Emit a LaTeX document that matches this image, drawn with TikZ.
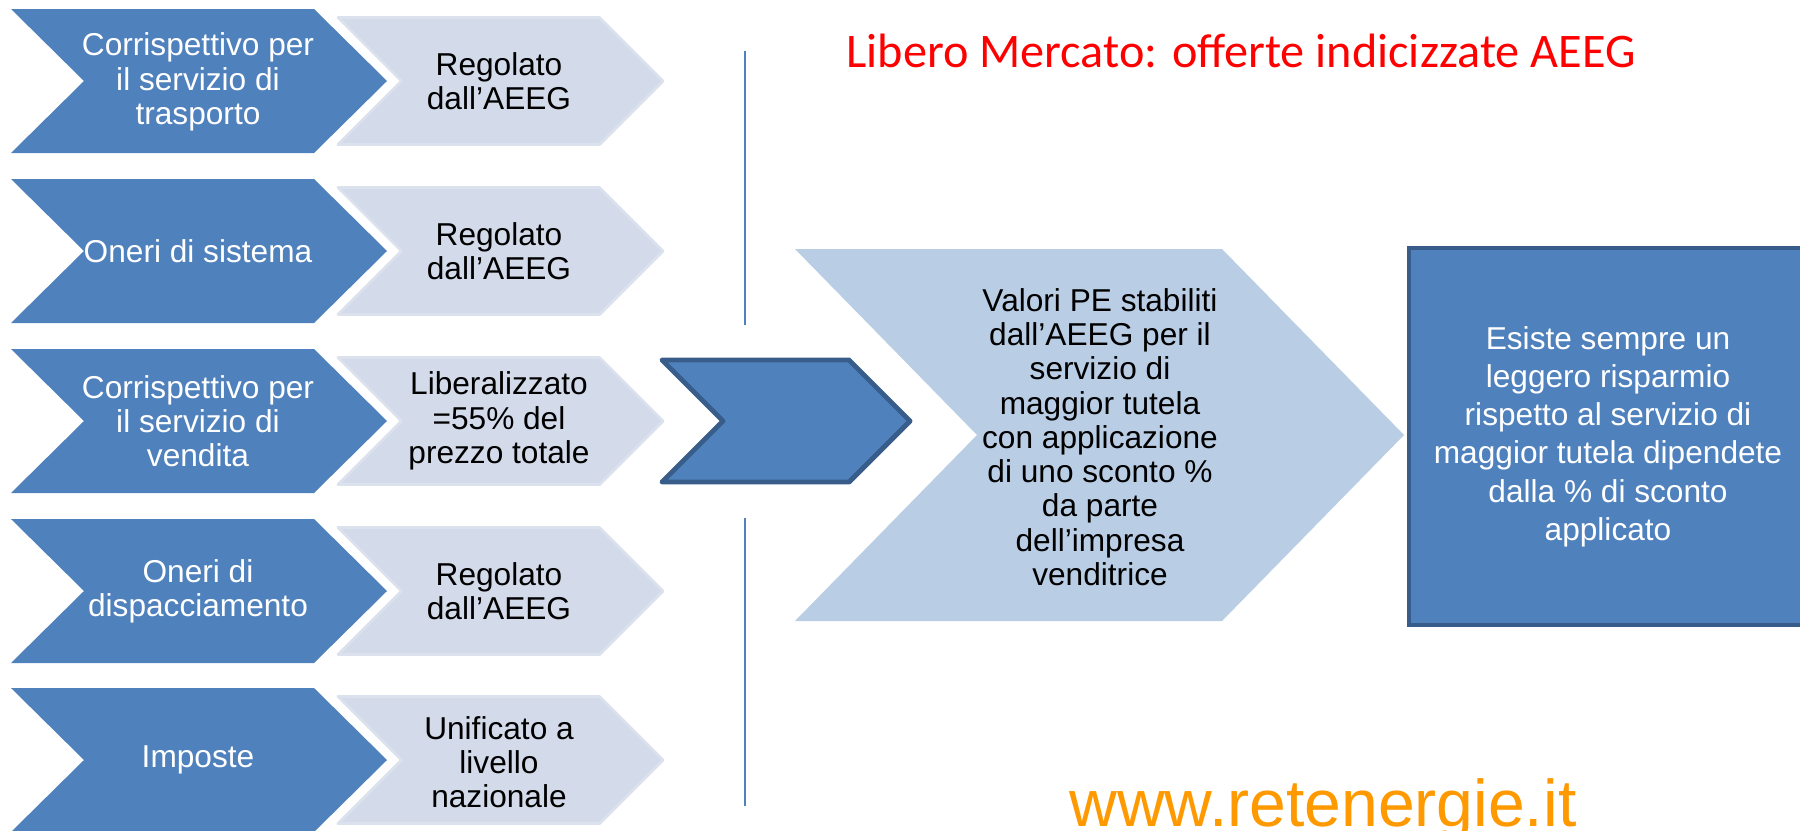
\documentclass[tikz,border=0pt]{standalone}
\usepackage{fontspec}
\setmainfont{Liberation Sans}
\newfontfamily\titlefont{Carlito}
\usetikzlibrary{positioning}

\definecolor{chevblue}{HTML}{4F81BD}
\definecolor{chevborder}{HTML}{385D8A}
\definecolor{chevlight}{HTML}{D3DAEA}
\definecolor{chevlightline}{HTML}{DCE1EE}
\definecolor{pefill}{HTML}{B9CDE5}
\definecolor{urlorange}{HTML}{FF9900}

% chevron: [style]{left}{tip}{centre y}{half height}{depth}
\newcommand{\drawchevron}[6][]{%
	\path[#1] (#2,{#4-#5}) -- ({#2+#6},#4) -- (#2,{#4+#5}) -- ({#3-#6},{#4+#5}) -- (#3,#4) -- ({#3-#6},{#4-#5}) -- cycle;}

\begin{document}
\begin{tikzpicture}[
	x=0.025cm, y=-0.025cm,
	darkchev/.style={fill=chevblue},
	lightchev/.style={fill=chevlight, draw=chevlightline, line width=2pt, line join=round},
	pechev/.style={fill=pefill},
	arrowchev/.style={fill=chevblue, draw=chevborder, line width=3.5pt, line join=round},
	bodytext/.style={inner sep=0pt, align=center, font=\fontsize{22.5}{24.4}\selectfont},
	darktext/.style={bodytext, text=white},
	lighttext/.style={bodytext, text=black},
	resultbox/.style={fill=chevblue, draw=chevborder, line width=2.8pt, minimum width=9.95cm, minimum height=9.425cm, inner sep=0pt, text=white, align=center, font=\fontsize{22.5}{27.2}\selectfont},
	]
	\useasboundingbox (0,0) rectangle (1800,830);
	\fill[white] (0,0) rectangle (1800,830);

	%Shapes
	\drawchevron[darkchev]{11}{387}{81}{72}{73}
	\drawchevron[darkchev]{11}{387}{251}{72}{73}
	\drawchevron[darkchev]{11}{387}{421}{72}{73}
	\drawchevron[darkchev]{11}{387}{591}{72}{73}
	\drawchevron[darkchev]{11}{387}{760}{72}{73}
	\drawchevron[lightchev]{338}{663}{81}{63.5}{63.5}
	\drawchevron[lightchev]{338}{663}{251}{63.5}{63.5}
	\drawchevron[lightchev]{338}{663}{421}{63.5}{63.5}
	\drawchevron[lightchev]{338}{663}{591}{63.5}{63.5}
	\drawchevron[lightchev]{338}{663}{760}{63.5}{63.5}
	\drawchevron[arrowchev]{662}{910}{421}{61}{61}
	\drawchevron[pechev]{795}{1404}{435}{186}{182}
	\draw[chevblue, line width=1.4pt] (745,51) -- (745,325);
	\draw[chevblue, line width=1.4pt] (745,518) -- (745,806);

	%Nodes
	\node[darktext]  (c1) at (198,82)  {Corrispettivo per\\il servizio di\\trasporto};
	\node[darktext]  (c2) at (198,251) {Oneri di sistema};
	\node[darktext]  (c3) at (198,421) {Corrispettivo per\\il servizio di\\vendita};
	\node[darktext]  (c4) at (198,591) {Oneri di\\dispacciamento};
	\node[darktext]  (c5) at (198,760) {Imposte};
	\node[lighttext] (r1) at (499,81)  {Regolato\\dall’AEEG};
	\node[lighttext] (r2) at (499,251) {Regolato\\dall’AEEG};
	\node[lighttext] (r3) at (499,421) {Liberalizzato\\=55\% del\\prezzo totale};
	\node[lighttext] (r4) at (499,591) {Regolato\\dall’AEEG};
	\node[lighttext] (r5) at (499,762) {Unificato a\\livello\\nazionale};
	\node[lighttext] (pe) at (1100,437) {Valori PE stabiliti\\dall’AEEG per il\\servizio di\\maggior tutela\\con applicazione\\di uno sconto \%\\da parte\\dell’impresa\\venditrice};
	\node[resultbox] (risp) at (1608,436.5) {Esiste sempre un\\leggero risparmio\\rispetto al servizio di\\maggior tutela dipendete\\dalla \% di sconto\\applicato};
	\node[anchor=base, inner sep=0pt, text=red, font=\titlefont\fontsize{34.3}{41}\selectfont] (title) at (1241,67) {Libero Mercato: offerte indicizzate AEEG};
	\node[anchor=base, inner sep=0pt, text=urlorange, font=\fontsize{47}{56}\selectfont] (web) at (1323,826) {www.retenergie.it};
\end{tikzpicture}
\end{document}
